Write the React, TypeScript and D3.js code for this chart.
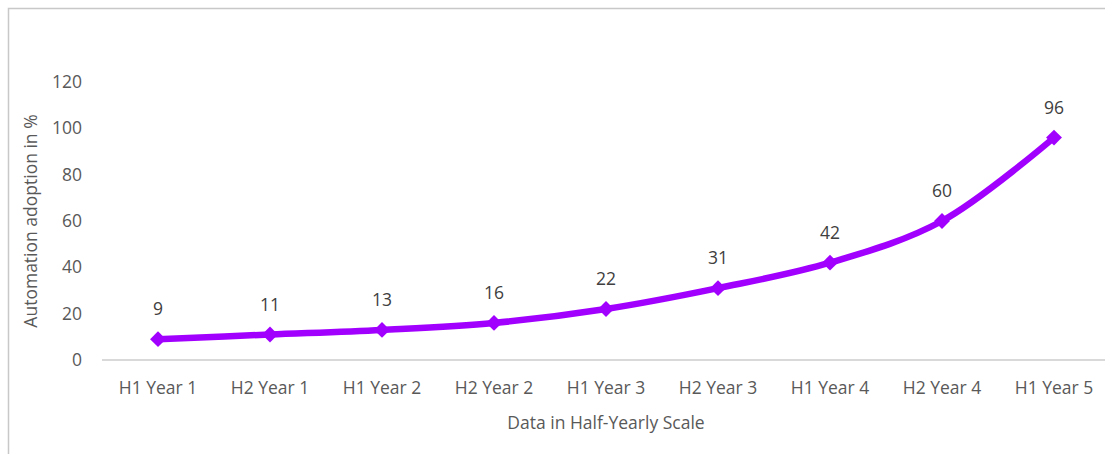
import React, { useRef, useEffect } from 'react';
import * as d3 from 'd3';

const categories = ['H1 Year 1', 'H2 Year 1', 'H1 Year 2', 'H2 Year 2', 'H1 Year 3', 'H2 Year 3', 'H1 Year 4', 'H2 Year 4', 'H1 Year 5'];
const adoption = [9, 11, 13, 16, 22, 31, 42, 60, 96];
const yTicks = [0, 20, 40, 60, 80, 100, 120];

const W = 1105;
const H = 454;

const drawChart = (svgEl: SVGSVGElement) => {
    const svg = d3.select(svgEl);
    svg.selectAll('*').remove();

    const font = "'Open Sans', 'Noto Sans', sans-serif";
    const fs = 17.5;
    const textColor = '#595959';

    // chart frame (extends past the right/bottom edge)
    svg.append('rect')
        .attr('x', 8.5).attr('y', 8.5)
        .attr('width', W + 20).attr('height', H + 20)
        .attr('fill', '#fff')
        .attr('stroke', '#c8c8c8')
        .attr('stroke-width', 1.5);

    const x = d3.scaleBand()
        .domain(categories)
        .range([102, 1110]);

    const y = d3.scaleLinear()
        .domain([0, 120])
        .range([360, 82]);

    // baseline
    svg.append('line')
        .attr('x1', 102).attr('x2', 1110)
        .attr('y1', y(0)).attr('y2', y(0))
        .attr('stroke', '#d9d9d9')
        .attr('stroke-width', 2);

    // y tick labels
    svg.append('g')
        .selectAll('text')
        .data(yTicks)
        .enter().append('text')
        .attr('x', 82)
        .attr('y', d => y(d))
        .attr('dy', '0.35em')
        .attr('text-anchor', 'end')
        .attr('font-family', font)
        .attr('font-size', fs)
        .attr('fill', textColor)
        .text(d => d);

    // x tick labels
    svg.append('g')
        .selectAll('text')
        .data(categories)
        .enter().append('text')
        .attr('x', d => x(d)! + x.bandwidth() / 2)
        .attr('y', 394)
        .attr('text-anchor', 'middle')
        .attr('font-family', font)
        .attr('font-size', fs)
        .attr('fill', textColor)
        .text(d => d);

    // axis titles
    svg.append('text')
        .attr('transform', `translate(37,${y(60)}) rotate(-90)`)
        .attr('text-anchor', 'middle')
        .attr('font-family', font)
        .attr('font-size', fs)
        .attr('fill', textColor)
        .text('Automation adoption in %');

    svg.append('text')
        .attr('x', 606)
        .attr('y', 429)
        .attr('text-anchor', 'middle')
        .attr('font-family', font)
        .attr('font-size', fs)
        .attr('fill', textColor)
        .text('Data in Half-Yearly Scale');

    const pts: [number, number][] = categories.map((c, i) => [x(c)! + x.bandwidth() / 2, y(adoption[i])]);

    const line = d3.line().curve(d3.curveCatmullRom.alpha(0.5));

    svg.append('path')
        .attr('d', line(pts)!)
        .attr('fill', 'none')
        .attr('stroke', '#a100ff')
        .attr('stroke-width', 6.5)
        .attr('stroke-linejoin', 'round');

    // diamond markers
    svg.append('g')
        .selectAll('path')
        .data(pts)
        .enter().append('path')
        .attr('d', d3.symbol().type(d3.symbolDiamond2).size(160)()!)
        .attr('transform', d => `translate(${d[0]},${d[1]})`)
        .attr('fill', '#a100ff');

    // data labels
    svg.append('g')
        .selectAll('text')
        .data(adoption)
        .enter().append('text')
        .attr('x', (d, i) => pts[i][0])
        .attr('y', (d, i) => pts[i][1] - 24)
        .attr('text-anchor', 'middle')
        .attr('font-family', font)
        .attr('font-size', fs)
        .attr('fill', '#404040')
        .text(d => d);
};

const App: React.FC = () => {
    const ref = useRef<SVGSVGElement>(null);

    useEffect(() => {
        if (ref.current) drawChart(ref.current);
    }, []);

    return (
        <svg
            ref={ref}
            width={W}
            height={H}
            style={{ position: 'absolute', left: 0, top: 0, background: '#fff' }}
        />
    );
};

export default App;
